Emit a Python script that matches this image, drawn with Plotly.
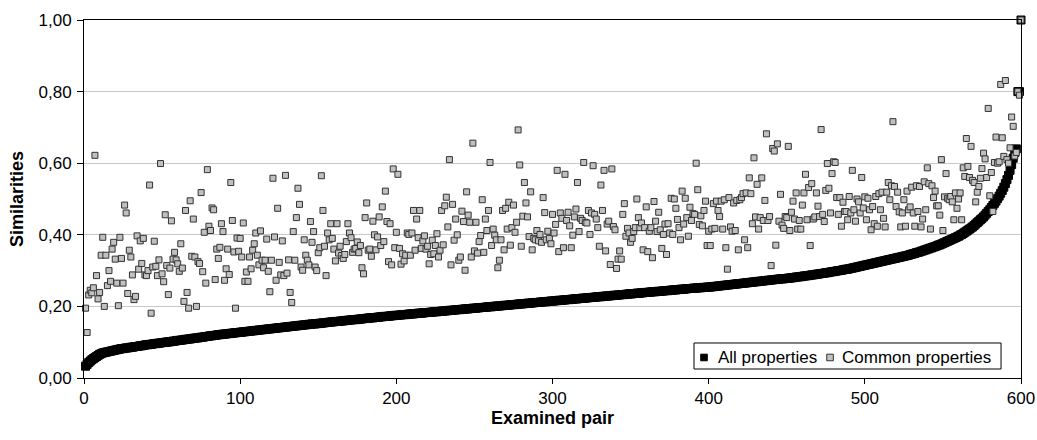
import plotly.graph_objects as go

pair_index = list(range(1, 601))

all_properties = [
    0.033,0.038,0.043,0.047,0.051,0.054,0.057,0.060,0.063,0.066,
    0.068,0.070,0.071,0.072,0.073,0.074,0.075,0.076,0.077,0.078,
    0.079,0.080,0.081,0.082,0.082,0.083,0.084,0.084,0.085,0.086,
    0.086,0.087,0.088,0.088,0.089,0.090,0.090,0.091,0.092,0.093,
    0.093,0.094,0.094,0.095,0.096,0.096,0.097,0.097,0.098,0.099,
    0.099,0.100,0.100,0.101,0.101,0.102,0.103,0.103,0.104,0.105,
    0.105,0.106,0.106,0.107,0.108,0.108,0.109,0.109,0.110,0.111,
    0.111,0.112,0.112,0.113,0.114,0.114,0.115,0.116,0.116,0.117,
    0.118,0.118,0.119,0.119,0.120,0.121,0.121,0.122,0.122,0.123,
    0.123,0.124,0.124,0.125,0.125,0.126,0.126,0.127,0.127,0.128,
    0.128,0.129,0.129,0.130,0.130,0.131,0.131,0.132,0.132,0.133,
    0.133,0.134,0.134,0.135,0.135,0.136,0.136,0.137,0.137,0.138,
    0.138,0.139,0.139,0.140,0.140,0.141,0.141,0.142,0.142,0.143,
    0.143,0.144,0.144,0.145,0.145,0.146,0.146,0.147,0.147,0.148,
    0.148,0.149,0.149,0.150,0.150,0.151,0.151,0.151,0.152,0.152,
    0.153,0.153,0.154,0.154,0.155,0.155,0.156,0.156,0.157,0.157,
    0.158,0.158,0.158,0.159,0.159,0.160,0.160,0.161,0.161,0.162,
    0.162,0.163,0.163,0.163,0.164,0.164,0.165,0.165,0.166,0.166,
    0.167,0.167,0.168,0.168,0.168,0.169,0.169,0.170,0.170,0.171,
    0.171,0.172,0.172,0.172,0.173,0.173,0.174,0.174,0.175,0.175,
    0.175,0.176,0.176,0.177,0.177,0.177,0.178,0.178,0.179,0.179,
    0.179,0.180,0.180,0.181,0.181,0.181,0.182,0.182,0.183,0.183,
    0.183,0.184,0.184,0.185,0.185,0.185,0.186,0.186,0.187,0.187,
    0.187,0.188,0.188,0.189,0.189,0.189,0.190,0.190,0.191,0.191,
    0.191,0.192,0.192,0.193,0.193,0.193,0.194,0.194,0.195,0.195,
    0.195,0.196,0.196,0.197,0.197,0.197,0.198,0.198,0.199,0.199,
    0.199,0.200,0.200,0.201,0.201,0.201,0.202,0.202,0.203,0.203,
    0.203,0.204,0.204,0.205,0.205,0.205,0.206,0.206,0.207,0.207,
    0.207,0.208,0.208,0.209,0.209,0.209,0.210,0.210,0.211,0.211,
    0.211,0.212,0.212,0.213,0.213,0.213,0.214,0.214,0.215,0.215,
    0.215,0.216,0.216,0.217,0.217,0.217,0.218,0.218,0.219,0.219,
    0.219,0.220,0.220,0.221,0.221,0.221,0.222,0.222,0.223,0.223,
    0.223,0.224,0.224,0.225,0.225,0.225,0.226,0.226,0.227,0.227,
    0.227,0.228,0.228,0.229,0.229,0.229,0.230,0.230,0.231,0.231,
    0.231,0.232,0.232,0.233,0.233,0.233,0.234,0.234,0.235,0.235,
    0.235,0.236,0.236,0.237,0.237,0.237,0.238,0.238,0.239,0.239,
    0.239,0.240,0.240,0.241,0.241,0.241,0.242,0.242,0.242,0.243,
    0.243,0.244,0.244,0.244,0.245,0.245,0.246,0.246,0.246,0.247,
    0.247,0.248,0.248,0.248,0.249,0.249,0.250,0.250,0.250,0.251,
    0.251,0.251,0.252,0.252,0.252,0.253,0.253,0.253,0.254,0.254,
    0.254,0.255,0.255,0.256,0.256,0.257,0.257,0.258,0.258,0.259,
    0.259,0.260,0.260,0.261,0.261,0.262,0.262,0.263,0.263,0.264,
    0.264,0.265,0.265,0.266,0.266,0.267,0.267,0.268,0.268,0.269,
    0.269,0.270,0.270,0.271,0.271,0.272,0.272,0.273,0.273,0.274,
    0.274,0.275,0.275,0.276,0.276,0.277,0.277,0.277,0.278,0.278,
    0.279,0.279,0.280,0.280,0.281,0.282,0.282,0.283,0.283,0.284,
    0.285,0.285,0.286,0.286,0.287,0.288,0.288,0.289,0.290,0.290,
    0.291,0.292,0.292,0.293,0.294,0.294,0.295,0.296,0.297,0.297,
    0.298,0.299,0.300,0.300,0.301,0.302,0.303,0.304,0.304,0.305,
    0.306,0.307,0.308,0.309,0.310,0.311,0.312,0.313,0.314,0.315,
    0.316,0.317,0.318,0.319,0.320,0.321,0.322,0.323,0.324,0.325,
    0.326,0.327,0.328,0.329,0.330,0.331,0.332,0.333,0.334,0.335,
    0.336,0.337,0.338,0.339,0.340,0.341,0.342,0.343,0.345,0.346,
    0.347,0.348,0.350,0.351,0.352,0.354,0.355,0.357,0.358,0.360,
    0.361,0.363,0.364,0.366,0.367,0.369,0.371,0.372,0.374,0.376,
    0.378,0.380,0.382,0.384,0.386,0.388,0.390,0.392,0.394,0.396,
    0.399,0.401,0.404,0.407,0.410,0.413,0.416,0.419,0.422,0.426,
    0.430,0.434,0.438,0.442,0.446,0.450,0.455,0.460,0.465,0.470,
    0.476,0.482,0.488,0.494,0.501,0.508,0.516,0.524,0.533,0.543,
    0.554,0.566,0.580,0.596,0.614,0.630,0.640,0.800,0.800,1.000,
]

common_properties = [
    0.195,0.127,0.232,0.245,0.238,0.252,0.622,0.286,0.221,0.239,
    0.343,0.393,0.200,0.343,0.258,0.300,0.270,0.360,0.379,0.332,
    0.265,0.202,0.393,0.334,0.265,0.483,0.461,0.236,0.357,0.338,
    0.288,0.219,0.228,0.397,0.304,0.383,0.320,0.390,0.288,0.286,
    0.300,0.539,0.181,0.310,0.382,0.312,0.286,0.330,0.599,0.291,
    0.269,0.456,0.314,0.233,0.307,0.439,0.332,0.351,0.330,0.319,
    0.298,0.375,0.307,0.214,0.468,0.239,0.195,0.495,0.340,0.444,
    0.338,0.200,0.325,0.320,0.518,0.297,0.407,0.265,0.582,0.424,
    0.412,0.475,0.470,0.275,0.360,0.334,0.365,0.431,0.409,0.273,
    0.305,0.360,0.289,0.546,0.440,0.352,0.195,0.391,0.354,0.390,
    0.338,0.433,0.270,0.296,0.270,0.338,0.305,0.357,0.375,0.405,
    0.343,0.316,0.411,0.329,0.308,0.329,0.388,0.298,0.241,0.329,
    0.558,0.394,0.273,0.474,0.323,0.288,0.383,0.286,0.566,0.293,
    0.330,0.239,0.211,0.409,0.329,0.448,0.530,0.485,0.310,0.301,
    0.386,0.343,0.329,0.316,0.437,0.379,0.409,0.310,0.300,0.350,
    0.364,0.565,0.468,0.368,0.286,0.405,0.386,0.431,0.390,0.360,
    0.327,0.431,0.349,0.368,0.342,0.334,0.345,0.381,0.431,0.405,
    0.392,0.351,0.360,0.362,0.380,0.350,0.370,0.308,0.291,0.448,
    0.489,0.357,0.360,0.340,0.438,0.400,0.358,0.394,0.450,0.370,
    0.478,0.381,0.522,0.437,0.325,0.431,0.316,0.584,0.364,0.407,
    0.569,0.362,0.318,0.347,0.327,0.343,0.405,0.401,0.343,0.405,
    0.468,0.357,0.444,0.392,0.468,0.362,0.383,0.397,0.360,0.368,
    0.319,0.345,0.385,0.347,0.370,0.403,0.338,0.357,0.468,0.372,
    0.481,0.505,0.422,0.610,0.316,0.485,0.385,0.444,0.400,0.329,
    0.338,0.466,0.437,0.301,0.520,0.455,0.435,0.338,0.656,0.355,
    0.435,0.349,0.381,0.398,0.498,0.351,0.444,0.412,0.468,0.602,
    0.370,0.416,0.399,0.386,0.308,0.329,0.386,0.468,0.358,0.474,
    0.416,0.491,0.371,0.420,0.483,0.407,0.435,0.693,0.595,0.368,
    0.452,0.546,0.489,0.450,0.395,0.520,0.358,0.390,0.386,0.412,
    0.383,0.401,0.379,0.504,0.462,0.386,0.410,0.390,0.375,0.457,
    0.405,0.429,0.580,0.353,0.461,0.446,0.364,0.569,0.440,0.463,
    0.425,0.364,0.399,0.450,0.472,0.546,0.409,0.446,0.440,0.602,
    0.435,0.433,0.468,0.401,0.461,0.593,0.457,0.444,0.420,0.368,
    0.539,0.468,0.580,0.355,0.430,0.438,0.317,0.584,0.423,0.414,
    0.306,0.332,0.355,0.332,0.457,0.487,0.396,0.418,0.405,0.379,
    0.390,0.409,0.420,0.500,0.448,0.420,0.433,0.358,0.420,0.478,
    0.353,0.410,0.420,0.336,0.493,0.438,0.409,0.463,0.414,0.362,
    0.401,0.430,0.345,0.431,0.405,0.502,0.401,0.500,0.474,0.443,
    0.420,0.386,0.522,0.430,0.502,0.448,0.396,0.477,0.440,0.459,
    0.457,0.600,0.526,0.429,0.453,0.425,0.468,0.494,0.370,0.410,
    0.370,0.416,0.487,0.418,0.494,0.468,0.451,0.494,0.416,0.498,
    0.364,0.304,0.504,0.422,0.410,0.489,0.412,0.496,0.358,0.498,
    0.504,0.515,0.386,0.517,0.364,0.559,0.515,0.431,0.615,0.450,
    0.541,0.416,0.448,0.559,0.440,0.496,0.682,0.440,0.451,0.314,
    0.641,0.634,0.371,0.654,0.438,0.513,0.427,0.418,0.451,0.448,
    0.647,0.412,0.463,0.494,0.444,0.517,0.416,0.440,0.416,0.483,
    0.517,0.569,0.442,0.532,0.370,0.543,0.444,0.450,0.517,0.480,
    0.451,0.694,0.457,0.437,0.524,0.599,0.530,0.461,0.571,0.604,
    0.602,0.504,0.457,0.504,0.424,0.491,0.465,0.465,0.442,0.507,
    0.461,0.580,0.470,0.438,0.500,0.492,0.461,0.560,0.475,0.506,
    0.442,0.502,0.470,0.414,0.479,0.431,0.507,0.424,0.515,0.470,
    0.519,0.446,0.422,0.519,0.546,0.498,0.537,0.716,0.535,0.479,
    0.519,0.464,0.422,0.461,0.498,0.424,0.522,0.470,0.478,0.533,
    0.461,0.424,0.537,0.465,0.535,0.422,0.444,0.548,0.470,0.587,
    0.543,0.416,0.537,0.504,0.522,0.481,0.481,0.455,0.610,0.412,
    0.506,0.571,0.502,0.498,0.507,0.492,0.442,0.517,0.474,0.500,
    0.517,0.442,0.587,0.563,0.669,0.591,0.560,0.647,0.552,0.546,
    0.492,0.519,0.535,0.558,0.585,0.628,0.612,0.560,0.753,0.509,
    0.574,0.465,0.602,0.673,0.600,0.604,0.820,0.671,0.619,0.831,
    0.610,0.600,0.643,0.729,0.703,0.620,0.630,0.800,0.790,1.000,
]

series_names = ["All properties", "Common properties"]
series_fill = ["#000000", "#c0c0c0"]
series_edge = ["#000000", "#333333"]

x_ticks = [0, 100, 200, 300, 400, 500, 600]
y_ticks = [0.0, 0.2, 0.4, 0.6, 0.8, 1.0]

FONT = "Liberation Sans, Arial, sans-serif"

fig = go.Figure()
fig.add_trace(go.Scatter(
    x=pair_index, y=all_properties, mode="markers", name=series_names[0],
    cliponaxis=False, showlegend=False,
    marker=dict(symbol="square", size=8, color=series_fill[0],
                line=dict(color=series_edge[0], width=1)),
))
fig.add_trace(go.Scatter(
    x=pair_index, y=common_properties, mode="markers", name=series_names[1],
    cliponaxis=False, showlegend=False,
    marker=dict(symbol="square", size=6, color=series_fill[1],
                line=dict(color=series_edge[1], width=1)),
))

# Legend drawn as a framed box (paper coordinates of the plot area)
legend_box = dict(x0=0.651, x1=0.9787, y0=0.0251, y1=0.0978)
legend_y = 0.0573
legend_marker_x = [0.6617, 0.7962]
legend_text_x = [0.6745, 0.8068]

shapes = [dict(type="rect", xref="paper", yref="paper", layer="above",
               x0=legend_box["x0"], x1=legend_box["x1"],
               y0=legend_box["y0"], y1=legend_box["y1"],
               line=dict(color="black", width=1), fillcolor="white")]
annotations = []
for name, fill, edge, mx, tx in zip(series_names, series_fill, series_edge,
                                    legend_marker_x, legend_text_x):
    shapes.append(dict(type="rect", xref="paper", yref="paper", layer="above",
                       xsizemode="pixel", ysizemode="pixel",
                       xanchor=mx, yanchor=legend_y,
                       x0=-3.3, x1=3.3, y0=-3.3, y1=3.3,
                       line=dict(color=edge, width=1), fillcolor=fill))
    annotations.append(dict(xref="paper", yref="paper", x=tx, y=legend_y,
                            xanchor="left", yanchor="middle", showarrow=False,
                            text=name, font=dict(family=FONT, size=17, color="black")))

fig.update_layout(
    width=1037, height=440,
    margin=dict(l=84, r=16, t=20, b=62),
    paper_bgcolor="white", plot_bgcolor="white",
    separators=",.",
    font=dict(family=FONT, size=17, color="black"),
    showlegend=False,
    hovermode=False,
    shapes=shapes, annotations=annotations,
)
fig.update_xaxes(
    range=[0, 600], tickmode="array", tickvals=x_ticks, automargin=False,
    ticks="outside", ticklen=5, tickcolor="black",
    tickfont=dict(family=FONT, size=17, color="black"),
    showline=True, linecolor="black", linewidth=1, mirror=True,
    showgrid=False, zeroline=False,
    title=dict(text="<b>Examined pair</b>", standoff=3,
               font=dict(family=FONT, size=18, color="black")),
)
fig.update_yaxes(
    range=[0, 1], tickmode="array", tickvals=y_ticks, tickformat=".2f",
    automargin=False,
    ticks="outside", ticklen=6, tickcolor="black", ticklabelstandoff=2,
    tickfont=dict(family=FONT, size=17, color="black"),
    showline=True, linecolor="black", linewidth=1, mirror=True,
    showgrid=True, gridcolor="#c8c8c8", gridwidth=1, zeroline=False,
    title=dict(text="<b>Similarities</b>", standoff=10,
               font=dict(family=FONT, size=18, color="black")),
)

fig.write_html(
    "out.html",
    config={"displayModeBar": False, "staticPlot": True},
    post_script="document.body.style.margin='0';document.body.style.overflow='hidden';",
)
